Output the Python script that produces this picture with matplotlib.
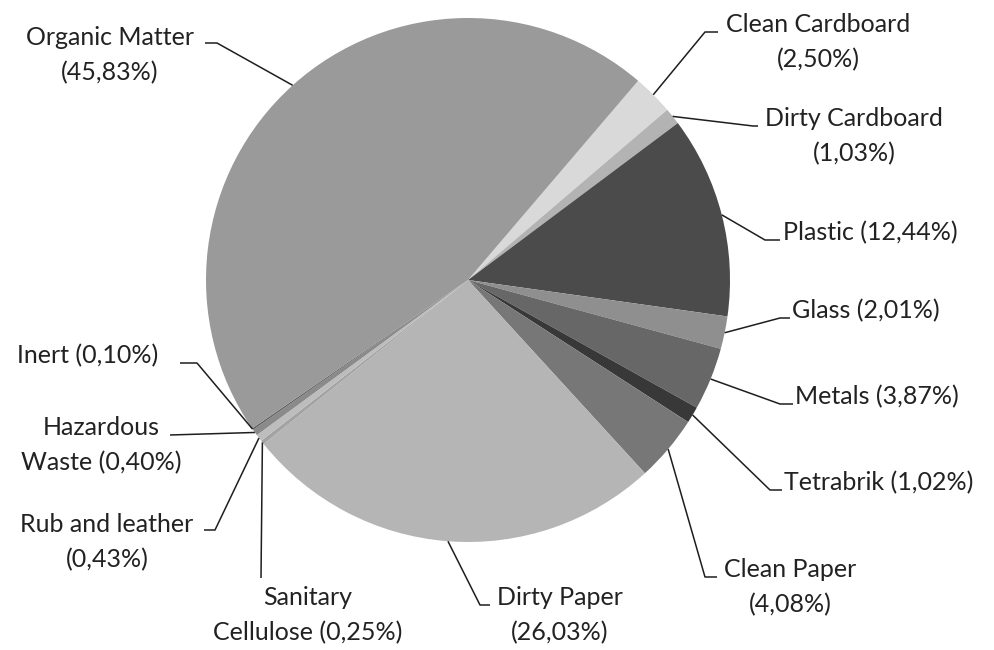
import numpy as np
import matplotlib
matplotlib.use('Agg')
import matplotlib.pyplot as plt

# waste composition, clockwise from the top right
categories = ['Clean Cardboard', 'Dirty Cardboard', 'Plastic', 'Glass', 'Metals',
              'Tetrabrik', 'Clean Paper', 'Dirty Paper', 'Sanitary Cellulose',
              'Rub and leather', 'Hazardous Waste', 'Inert', 'Organic Matter']
shares = [2.50, 1.03, 12.44, 2.01, 3.87, 1.02, 4.08, 26.03, 0.25, 0.43, 0.40, 0.10, 45.83]
colors = ['#d9d9d9', '#b3b3b3', '#4b4b4b', '#8f8f8f', '#676767', '#383838', '#777777',
          '#b5b5b5', '#a3a3a3', '#bdbdbd', '#8a8a8a', '#5e5e5e', '#9a9a9a']
# where the label text breaks onto a second line (None = single line)
label_break = ['Clean Cardboard', 'Dirty Cardboard', None, None, None, None, 'Clean Paper',
               'Dirty Paper', 'Sanitary', 'Rub and leather', 'Hazardous', None, 'Organic Matter']

W, H = 994, 650
CX, CY, R = 468, 280, 262  # pie centre / radius in pixels
LINE_GAP = 35              # pixels between label baselines


def px(x, y):
    """pixel position -> data position (pie of radius 1 at the origin)"""
    return (x - CX) / R, (CY - y) / R


# label layout in pixels: text anchor x, first baseline y, ha, elbow, stub end
layout = {
    'Clean Cardboard': (818, 32, 'center', (705, 32), (718, 32)),
    'Dirty Cardboard': (854, 126, 'center', (753, 126), (758, 126)),
    'Plastic': (783, 240, 'left', (765, 240), (780, 240)),
    'Glass': (792, 318, 'left', (780, 318), (790, 318)),
    'Metals': (795, 404, 'left', (780, 404), (793, 404)),
    'Tetrabrik': (784, 490, 'left', (770, 490), (782, 490)),
    'Clean Paper': (790, 577, 'center', (705, 577), (717, 577)),
    'Dirty Paper': (560, 605, 'center', (480, 605), (490, 605)),
    'Sanitary Cellulose': (308, 605, 'center', (261, 578), (261, 578)),
    'Rub and leather': (107, 532, 'center', (215, 530), (204, 530)),
    'Hazardous Waste': (101, 435, 'center', (170, 435), (170, 435)),
    'Inert': (17, 363, 'left', (197, 363), (180, 363)),
    'Organic Matter': (110, 45, 'center', (217, 43), (205, 43)),
}

plt.rcParams['font.family'] = ['Lato', 'DejaVu Sans']

fig = plt.figure(figsize=(W / 100, H / 100), dpi=100)
ax = fig.add_axes([0, 0, 1, 1])

start = 49.5
wedges, _ = ax.pie(shares, colors=colors, startangle=start, counterclock=False,
                   radius=1, center=(0, 0), wedgeprops=dict(linewidth=0))
ax.set_xlim(px(0, 0)[0], px(W, 0)[0])
ax.set_ylim(px(0, H)[1], px(0, 0)[1])
ax.set_aspect('equal')
ax.axis('off')

for name, share, brk, w in zip(categories, shares, label_break, wedges):
    pct = '({:.2f}%)'.format(share).replace('.', ',')
    full = '{} {}'.format(name, pct)
    if brk is None:
        lines = [full]
    else:
        lines = [brk, full[len(brk):].strip()]
    key = name if name in layout else name.split()[0]
    tx, ty, ha, elbow, end = layout[key]

    mid = np.deg2rad((w.theta1 + w.theta2) / 2)
    edge = (np.cos(mid), np.sin(mid))
    ex, ey = px(*elbow)
    sx, sy = px(*end)
    ax.plot([edge[0], ex, sx], [edge[1], ey, sy], color='#1e1e1e', lw=1.1,
            solid_capstyle='butt')

    for i, line in enumerate(lines):
        x, y = px(tx, ty + i * LINE_GAP)
        ax.text(x, y, line, ha=ha, va='baseline', fontsize=18, color='#222222')

fig.savefig('out.png', dpi=100, facecolor='white')
